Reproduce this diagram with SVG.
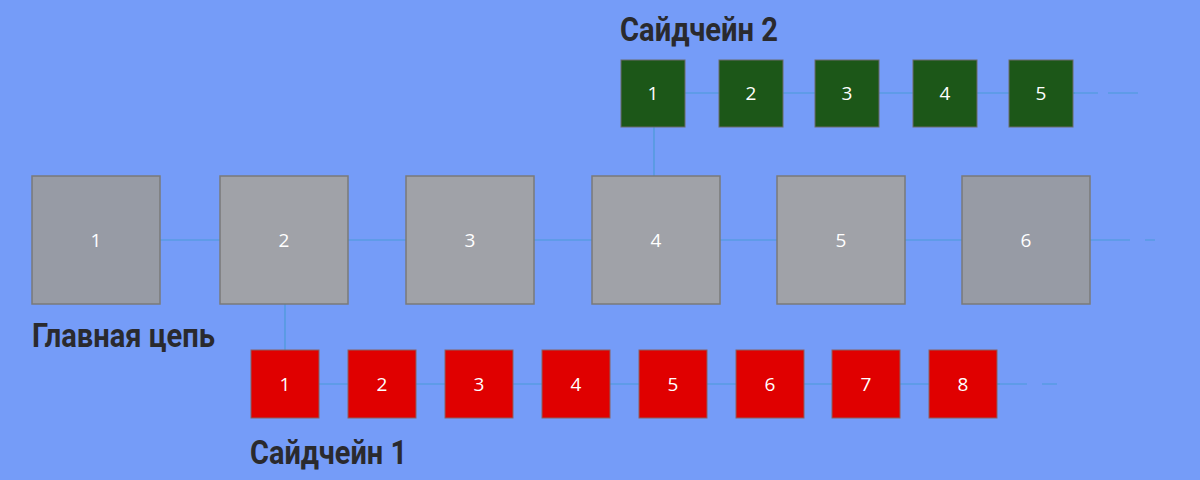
<svg xmlns="http://www.w3.org/2000/svg" width="1200" height="480" viewBox="0 0 1200 480">
<style>
.m{fill:#a0a2a8;stroke:#7a7a7a;stroke-width:1.5}
.r{fill:#e00000;stroke:#8a6060;stroke-width:1}
.g{fill:#1c5718;stroke:#6a6a6a;stroke-width:1}
.n{font-family:"Open Sans","Noto Sans",sans-serif;fill:#fff;text-anchor:middle;font-size:19px}
.t{font-family:Roboto,"Liberation Sans",sans-serif;font-weight:bold;fill:#2a2a2e;font-size:34px}
.c line{stroke:#4a9ad8;stroke-width:1.2}
</style>
<rect width="1200" height="480" fill="#759cf8"/>
<g class="c">
<line x1="160" y1="240" x2="1090" y2="240"/>
<line x1="1090" y1="240" x2="1160" y2="240" stroke-dasharray="40 15 10"/>
<line x1="285" y1="304" x2="285" y2="350"/>
<line x1="319" y1="384" x2="1000" y2="384"/>
<line x1="997" y1="384" x2="1065" y2="384" stroke-dasharray="30 15 15"/>
<line x1="654" y1="127" x2="654" y2="176"/>
<line x1="685" y1="93" x2="1075" y2="93"/>
<line x1="1073" y1="93" x2="1143" y2="93" stroke-dasharray="25 10 30"/>
</g>
<g id="m1"><rect class="m" x="32" y="176" width="128" height="128" fill="#979ba5" style="fill:#979ba5"/><text class="n" x="96" y="247">1</text></g>
<g id="m2"><rect class="m" x="220" y="176" width="128" height="128"/><text class="n" x="284" y="247">2</text></g>
<g id="m3"><rect class="m" x="406" y="176" width="128" height="128"/><text class="n" x="470" y="247">3</text></g>
<g id="m4"><rect class="m" x="592" y="176" width="128" height="128"/><text class="n" x="656" y="247">4</text></g>
<g id="m5"><rect class="m" x="777" y="176" width="128" height="128"/><text class="n" x="841" y="247">5</text></g>
<g id="m6"><rect class="m" x="962" y="176" width="128" height="128" style="fill:#979ba5"/><text class="n" x="1026" y="247">6</text></g>
<g id="r1"><rect class="r" x="251" y="350" width="68" height="68"/><text class="n" x="285" y="391">1</text></g>
<g id="r2"><rect class="r" x="348" y="350" width="68" height="68"/><text class="n" x="382" y="391">2</text></g>
<g id="r3"><rect class="r" x="445" y="350" width="68" height="68"/><text class="n" x="479" y="391">3</text></g>
<g id="r4"><rect class="r" x="542" y="350" width="68" height="68"/><text class="n" x="576" y="391">4</text></g>
<g id="r5"><rect class="r" x="639" y="350" width="68" height="68"/><text class="n" x="673" y="391">5</text></g>
<g id="r6"><rect class="r" x="736" y="350" width="68" height="68"/><text class="n" x="770" y="391">6</text></g>
<g id="r7"><rect class="r" x="832" y="350" width="68" height="68"/><text class="n" x="866" y="391">7</text></g>
<g id="r8"><rect class="r" x="929" y="350" width="68" height="68"/><text class="n" x="963" y="391">8</text></g>
<g id="g1"><rect class="g" x="621" y="60" width="64" height="67"/><text class="n" x="653" y="100">1</text></g>
<g id="g2"><rect class="g" x="719" y="60" width="64" height="67"/><text class="n" x="751" y="100">2</text></g>
<g id="g3"><rect class="g" x="815" y="60" width="64" height="67"/><text class="n" x="847" y="100">3</text></g>
<g id="g4"><rect class="g" x="913" y="60" width="64" height="67"/><text class="n" x="945" y="100">4</text></g>
<g id="g5"><rect class="g" x="1009" y="60" width="64" height="67"/><text class="n" x="1041" y="100">5</text></g>
<text class="t" x="32" y="347" textLength="183" lengthAdjust="spacingAndGlyphs">Главная цепь</text>
<text class="t" x="620" y="41" textLength="158" lengthAdjust="spacingAndGlyphs">Сайдчейн 2</text>
<text class="t" x="250" y="464" textLength="157" lengthAdjust="spacingAndGlyphs">Сайдчейн 1</text>
</svg>
